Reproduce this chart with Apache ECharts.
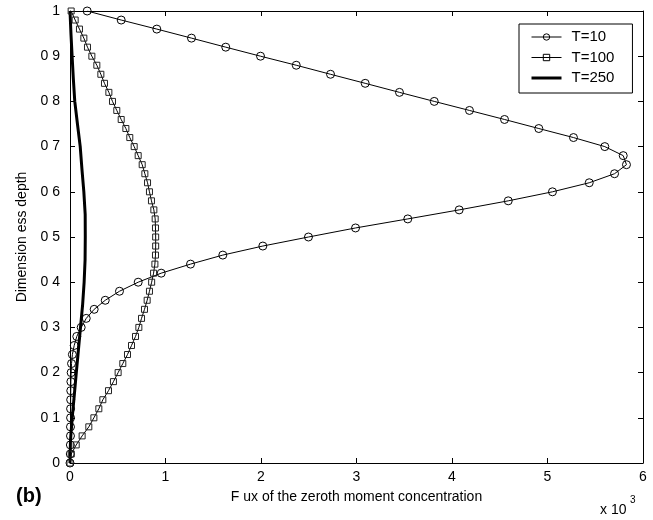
<!DOCTYPE html>
<html>
<head>
<meta charset="utf-8">
<script src="https://cdn.jsdelivr.net/npm/echarts@6/dist/echarts.min.js"></script>
<style>html,body{margin:0;padding:0;background:#fff;}#c{width:653px;height:520px;}</style>
</head>
<body>
<div id="c"></div>
<script>
// Dimensionless depth grid (step 0.02) for T=10 and T=100
const depth = [0.00,0.02,0.04,0.06,0.08,0.10,0.12,0.14,0.16,0.18,0.20,0.22,0.24,0.26,0.28,0.30,0.32,0.34,0.36,0.38,0.40,0.42,0.44,0.46,0.48,0.50,0.52,0.54,0.56,0.58,0.60,0.62,0.64,0.66,0.68,0.70,0.72,0.74,0.76,0.78,0.80,0.82,0.84,0.86,0.88,0.90,0.92,0.94,0.96,0.98,1.00];
// Flux (x 10^3)
const fluxT10 = [0.000,0.003,0.004,0.005,0.005,0.006,0.006,0.007,0.008,0.009,0.012,0.016,0.025,0.044,0.071,0.117,0.170,0.253,0.369,0.518,0.714,0.955,1.262,1.600,2.019,2.497,2.990,3.537,4.075,4.589,5.052,5.437,5.702,5.827,5.793,5.600,5.272,4.909,4.550,4.183,3.814,3.450,3.091,2.728,2.369,1.995,1.631,1.272,0.909,0.536,0.180];
const fluxT100 = [0.000,0.013,0.065,0.127,0.197,0.250,0.302,0.344,0.403,0.455,0.504,0.553,0.602,0.644,0.686,0.721,0.749,0.780,0.808,0.832,0.855,0.875,0.889,0.895,0.897,0.897,0.895,0.892,0.878,0.853,0.832,0.812,0.784,0.756,0.714,0.672,0.626,0.585,0.536,0.490,0.445,0.407,0.361,0.323,0.281,0.229,0.183,0.145,0.099,0.054,0.012];
// T=250 curve
const depth250 = [0.00,0.05,0.10,0.15,0.20,0.25,0.30,0.35,0.40,0.45,0.50,0.55,0.60,0.65,0.70,0.75,0.80,0.85,0.90,0.95,1.00];
const fluxT250 = [0.000,0.005,0.023,0.045,0.066,0.088,0.110,0.132,0.148,0.158,0.160,0.159,0.145,0.125,0.107,0.078,0.050,0.035,0.022,0.010,0.000];
const seriesNames = ['T=10','T=100','T=250'];
const xTicks = [0,1,2,3,4,5,6];
const yTicks = [0,0.1,0.2,0.3,0.4,0.5,0.6,0.7,0.8,0.9,1];

const pairs = (xs, ys) => xs.map((x, i) => [x, ys[i]]);
const font = 'Liberation Sans, Arial, sans-serif';
const chart = echarts.init(document.getElementById('c'));
const yFmt = v => {
  const r = Math.round(v * 10) / 10;
  if (r === 0) return '0';
  if (r === 1) return '1';
  return r.toFixed(1).replace('.', ' ');
};
const axisCommon = {
  type: 'value',
  axisLine: { show: true, onZero: false, lineStyle: { color: '#000', width: 1 } },
  axisTick: { show: true, inside: true, length: 5, lineStyle: { color: '#000' } },
  splitLine: { show: false }
};
chart.setOption({
  animation: false,
  backgroundColor: '#fff',
  textStyle: { fontFamily: font },
  grid: { left: 70, right: 10, top: 11, bottom: 57, containLabel: false },
  xAxis: [
    Object.assign({}, axisCommon, {
      min: xTicks[0], max: xTicks[xTicks.length - 1], interval: 1, position: 'bottom',
      axisLabel: { color: '#000', fontSize: 14, margin: 7, fontFamily: font },
      name: 'F ux of the zeroth moment concentration', nameLocation: 'middle', nameGap: 27,
      nameMoveOverlap: false,
      nameTextStyle: { color: '#000', fontSize: 14, fontFamily: font }
    }),
    Object.assign({}, axisCommon, {
      min: xTicks[0], max: xTicks[xTicks.length - 1], interval: 1, position: 'top',
      axisLabel: { show: false }
    })
  ],
  yAxis: [
    Object.assign({}, axisCommon, {
      min: yTicks[0], max: yTicks[yTicks.length - 1], interval: 0.1, position: 'left',
      axisLabel: { color: '#000', fontSize: 14, margin: 10, fontFamily: font, formatter: yFmt },
      name: 'Dimension ess depth', nameLocation: 'middle', nameGap: 40,
      nameTextStyle: { color: '#000', fontSize: 14, fontFamily: font }
    }),
    Object.assign({}, axisCommon, {
      min: yTicks[0], max: yTicks[yTicks.length - 1], interval: 0.1, position: 'right',
      axisLabel: { show: false }
    })
  ],
  legend: {
    orient: 'vertical', left: 519, top: 24,
    padding: [5, 18, 7, 11], itemGap: 4.5, itemWidth: 30, itemHeight: 8,
    borderColor: '#000', borderWidth: 1, borderRadius: 0, backgroundColor: '#fff',
    textStyle: { color: '#000', fontSize: 15, lineHeight: 16, fontFamily: font, padding: [0, 0, 0, 5] },
    data: [
      { name: seriesNames[0], lineStyle: { width: 1, color: '#000' },
        itemStyle: { color: 'rgba(255,255,255,0)', borderColor: '#000', borderWidth: 1 } },
      { name: seriesNames[1], lineStyle: { width: 1, color: '#000' },
        itemStyle: { color: 'rgba(255,255,255,0)', borderColor: '#000', borderWidth: 1 } },
      { name: seriesNames[2], lineStyle: { width: 3, color: '#000' },
        itemStyle: { color: 'rgba(0,0,0,0)', borderColor: 'rgba(0,0,0,0)', borderWidth: 0 } }
    ]
  },
  series: [
    {
      name: seriesNames[0], type: 'line', data: pairs(fluxT10, depth),
      symbol: 'circle', symbolSize: 8, showAllSymbol: true,
      lineStyle: { color: '#000', width: 1 },
      itemStyle: { color: 'rgba(255,255,255,0)', borderColor: '#000', borderWidth: 1 }
    },
    {
      name: seriesNames[1], type: 'line', data: pairs(fluxT100, depth),
      symbol: 'rect', symbolSize: 6, showAllSymbol: true,
      lineStyle: { color: '#000', width: 1 },
      itemStyle: { color: 'rgba(255,255,255,0)', borderColor: '#222', borderWidth: 1 }
    },
    {
      name: seriesNames[2], type: 'line', data: pairs(fluxT250, depth250),
      symbol: 'none', lineStyle: { color: '#000', width: 3 },
      itemStyle: { color: '#000' }
    }
  ],
  graphic: [
    { type: 'text', left: 16, top: 486, style: { text: '(b)', font: 'bold 20px ' + font, fill: '#000' } },
    { type: 'text', left: 600, top: 503, style: { text: 'x 10', font: '14px ' + font, fill: '#000' } },
    { type: 'text', left: 630, top: 495, style: { text: '3', font: '10px ' + font, fill: '#000' } }
  ]
});
</script>
</body>
</html>
